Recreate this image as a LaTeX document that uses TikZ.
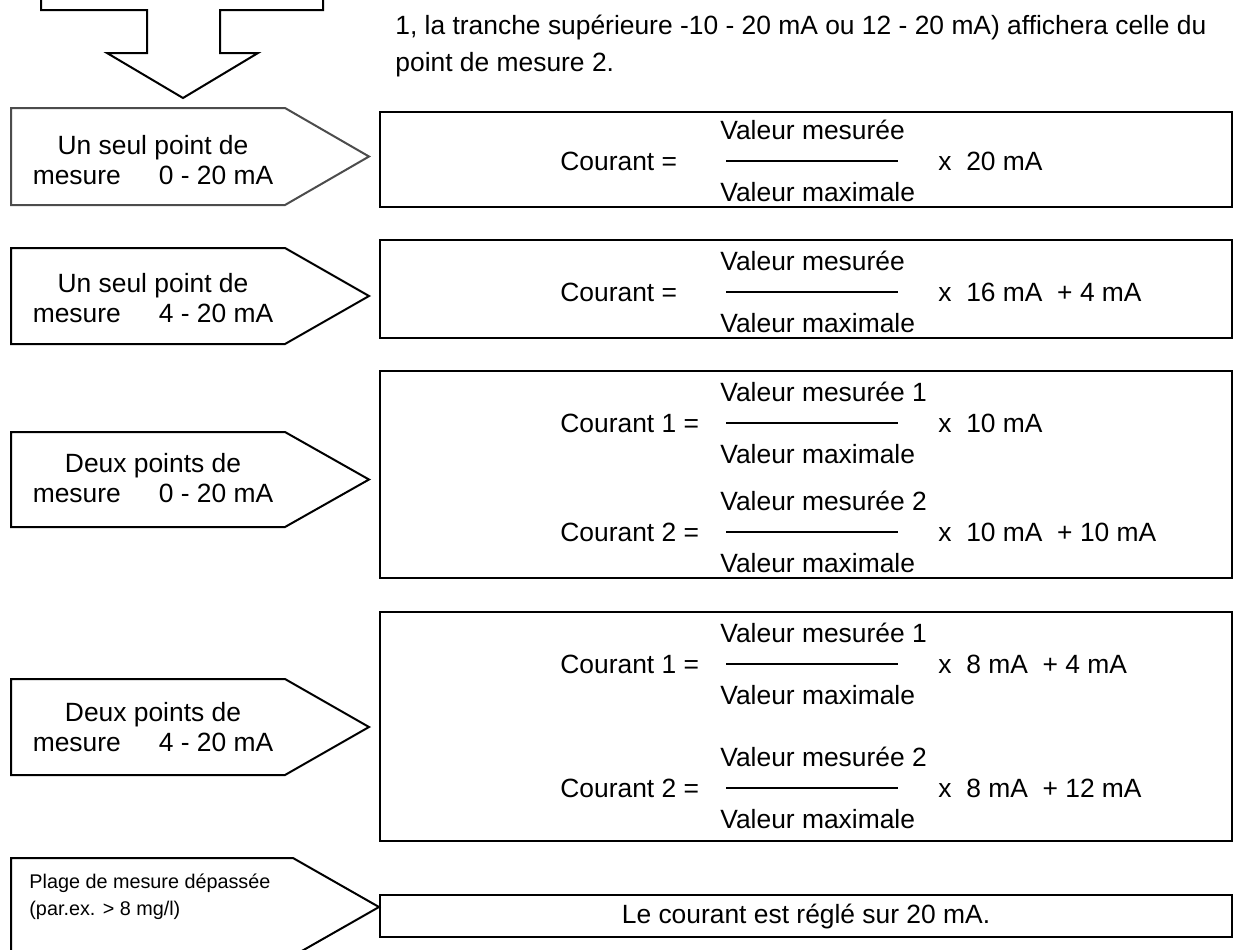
\documentclass[tikz,border=0pt]{standalone}
\usepackage{fontspec}
\setmainfont{Liberation Sans}
\usetikzlibrary{positioning}

% pointer shape on the left: top y, bottom y, body end x, tip x, colour
\newcommand{\pointershape}[5]{%
  \draw[pointer, draw=#5] (11,#1) -- (#3,#1) -- (#4,{(#1+#2)/2}) -- (#3,#2) -- (11,#2) -- cycle;}
% one formula row: name, y of the fraction line, left part, numerator, right part
\newcommand{\formularow}[5]{%
  \node[txt, anchor=west] (#1L) at (560,#2) {#3};
  \node[txt, anchor=west] (#1N) at (720,#2-31) {#4};
  \node[txt, anchor=west] (#1D) at (720,#2+31) {Valeur maximale};
  \draw[fracline] (726,#2) -- (898,#2);
  \node[txt, anchor=west] (#1R) at (938,#2) {#5};}

\begin{document}
\begin{tikzpicture}[x=0.5pt, y=-0.5pt, font=\fontsize{13.2}{15}\selectfont,
  txt/.style={inner sep=0pt},
  frame/.style={draw, line width=1pt},
  pointer/.style={line width=1pt, fill=white},
  fracline/.style={line width=0.7pt}]
  \useasboundingbox (0,0) rectangle (1235,949);

  % block arrow at the top
  \draw[line width=1pt] (41,-20) -- (41,10) -- (147,10) -- (147,53) -- (107,53) -- (183,98)
    -- (258,53) -- (220,53) -- (220,10) -- (323,10) -- (323,-20);
  \node[txt, anchor=west, align=left, font=\fontsize{13.2}{18.5}\selectfont] (intro) at (395,46)
    {1, la tranche supérieure -10 - 20 mA ou 12 - 20 mA) affichera celle du\\ point de mesure 2.};

  % left pointers
  \pointershape{108}{205}{285}{369}{black!70}
  \pointershape{248}{344}{285}{369}{black}
  \pointershape{432}{527}{285}{369}{black}
  \pointershape{679}{775}{285}{369}{black}
  \pointershape{858}{956}{293}{379}{black}
  \node[txt, align=center] (p1) at (153,160) {Un seul point de\\ mesure\hspace{19pt}0 - 20 mA};
  \node[txt, align=center] (p2) at (153,298) {Un seul point de\\ mesure\hspace{19pt}4 - 20 mA};
  \node[txt, align=center] (p3) at (153,478) {Deux points de\\ mesure\hspace{19pt}0 - 20 mA};
  \node[txt, align=center] (p4) at (153,727) {Deux points de\\ mesure\hspace{19pt}4 - 20 mA};
  \node[txt, anchor=west, align=left, font=\fontsize{9.9}{13.5}\selectfont] (p5) at (29,897)
    {Plage de mesure dépassée\\ (par.ex. > 8 mg/l)};

  % formula boxes
  \draw[frame] (380,112) rectangle (1232,207);
  \draw[frame] (380,240) rectangle (1232,338);
  \draw[frame] (380,371) rectangle (1232,578);
  \draw[frame] (380,612) rectangle (1232,841);
  \draw[frame] (380,895) rectangle (1232,937);

  \formularow{a}{161}{Courant =}{Valeur mesurée}{x\ \ 20 mA}
  \formularow{b}{292}{Courant =}{Valeur mesurée}{x\ \ 16 mA\ \ + 4 mA}
  \formularow{c}{423}{Courant 1 =}{Valeur mesurée 1}{x\ \ 10 mA}
  \formularow{d}{532}{Courant 2 =}{Valeur mesurée 2}{x\ \ 10 mA\ \ + 10 mA}
  \formularow{e}{664}{Courant 1 =}{Valeur mesurée 1}{x\ \ 8 mA\ \ + 4 mA}
  \formularow{f}{788}{Courant 2 =}{Valeur mesurée 2}{x\ \ 8 mA\ \ + 12 mA}
  \node[txt] (last) at (806,916) {Le courant est réglé sur 20 mA.};
\end{tikzpicture}
\end{document}
